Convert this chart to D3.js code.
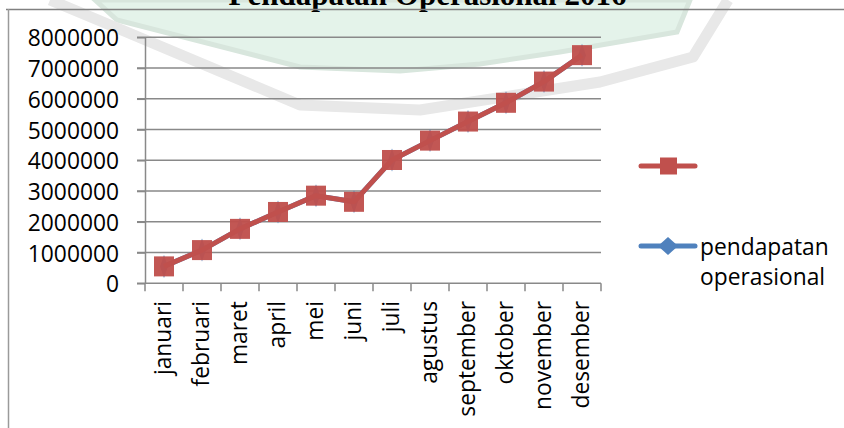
<!DOCTYPE html>
<html><head><meta charset="utf-8">
<script src="https://cdn.jsdelivr.net/npm/d3@7"></script>
<style>html,body{margin:0;padding:0;background:#fff;overflow:hidden}</style>
</head><body><svg id="c" width="844" height="428"></svg>
<script>
const chartTitle = "Pendapatan Operasional 2016";
const months = ["januari","februari","maret","april","mei","juni","juli","agustus","september","oktober","november","desember"];
const redSeries = [550000,1080000,1770000,2320000,2850000,2650000,4010000,4640000,5260000,5870000,6560000,7420000];
const pendapatanOperasional = [550000,1080000,1770000,2320000,2850000,2650000,4010000,4640000,5260000,5870000,6560000,7420000];
const yTicks = [0,1000000,2000000,3000000,4000000,5000000,6000000,7000000,8000000];
const legendLabels = ["", "pendapatan operasional"];

const svg = d3.select("#c");
const W = 844, H = 428;
const plot = {left:145, right:601, top:37.3, bottom:283.3};
const x = d3.scaleBand().domain(months).range([plot.left, plot.right]);
const y = d3.scaleLinear().domain([0, 8000000]).range([plot.bottom, plot.top]);
const cx = m => x(m) + x.bandwidth()/2;
const FONT = "'Open Sans', sans-serif";

// faint watermark of the scanned page
const wm = svg.append("g");
wm.append("path")
  .attr("d", d3.line()([[95,0],[117,20],[300,67],[400,71],[480,64],[560,52],[677,32],[690,0]]) + "Z")
  .attr("fill", "#e4f3ea").attr("stroke", "#d8e6dd").attr("stroke-width", 5);
wm.append("path")
  .attr("d", d3.line()([[50,0],[98,20],[300,105],[420,110],[600,82],[693,57],[728,0]]))
  .attr("fill", "none").attr("stroke", "#e8e8e8").attr("stroke-width", 11).attr("stroke-linejoin","round");

// title (partly cut at the top)
svg.append("text").attr("x", 427.5).attr("y", 5).attr("text-anchor","middle")
  .attr("font-family","'Liberation Serif', 'Times New Roman', serif").attr("font-weight","bold")
  .attr("font-size", 31).attr("fill","#000").text(chartTitle);

// chart frame
svg.append("line").attr("x1",6).attr("x2",W).attr("y1",9.5).attr("y2",9.5).attr("stroke","#808080").attr("stroke-width",1.5);
svg.append("line").attr("x1",8.5).attr("x2",8.5).attr("y1",9).attr("y2",H).attr("stroke","#9a9a9a").attr("stroke-width",1.5);

const GRID = "#898989";
// gridlines
svg.append("g").selectAll("line").data(yTicks).join("line")
  .attr("x1", plot.left - 8).attr("x2", plot.right)
  .attr("y1", d => y(d)).attr("y2", d => y(d))
  .attr("stroke", GRID).attr("stroke-width", 1.5);

// y axis
const yAxis = svg.append("g").attr("transform", `translate(${plot.left},0)`)
  .call(d3.axisLeft(y).tickValues(yTicks).tickSize(8).tickSizeOuter(0).tickFormat(d3.format("d")));
yAxis.select(".domain").attr("stroke", GRID).attr("stroke-width", 1.5);
yAxis.selectAll(".tick line").attr("stroke", GRID).attr("stroke-width", 1.5);
yAxis.selectAll(".tick text").attr("x", null).attr("dy", "0.357em")
  .attr("transform", "translate(-26,0) scale(0.95,1)")
  .attr("font-family", FONT).attr("font-size", 24).attr("fill", "#000").attr("text-anchor","end");

// x axis ticks at band boundaries
const bounds = months.map(m => x(m)).concat([plot.right]);
svg.append("g").selectAll("line").data(bounds).join("line")
  .attr("x1", d => d).attr("x2", d => d).attr("y1", plot.bottom).attr("y2", plot.bottom + 8)
  .attr("stroke", GRID).attr("stroke-width", 1.5);

// x labels
svg.append("g").selectAll("text").data(months).join("text")
  .attr("transform", d => `translate(${cx(d)+7},301) rotate(-90) scale(0.95,1)`)
  .attr("text-anchor","end").attr("font-family", FONT).attr("font-size", 24).attr("fill","#000")
  .text(d => d);

const line = d3.line().x((d,i) => cx(months[i])).y(d => y(d));

// blue series (hidden below)
const BLUE = "#4f81bd", RED = "#c0504d";
svg.append("path").attr("d", line(pendapatanOperasional)).attr("fill","none")
  .attr("stroke", BLUE).attr("stroke-width", 5).attr("stroke-linejoin","round");
const diamond = (px, py, hw, hh) => `M${px},${py-hh}L${px+hw},${py}L${px},${py+hh}L${px-hw},${py}Z`;
svg.append("g").selectAll("path").data(pendapatanOperasional).join("path")
  .attr("d", (d,i) => diamond(cx(months[i]), y(d), 4, 11.5)).attr("fill", BLUE);

// red series
svg.append("path").attr("d", line(redSeries)).attr("fill","none")
  .attr("stroke", RED).attr("stroke-width", 5).attr("stroke-linejoin","round");
svg.append("g").selectAll("rect").data(redSeries).join("rect")
  .attr("x", (d,i) => cx(months[i]) - 10).attr("y", d => y(d) - 10)
  .attr("width", 20).attr("height", 20).attr("fill", RED).attr("fill-opacity", 0.96);

// legend
const lg = svg.append("g");
const legendRows = [{c:RED, yy:166, marker:"sq", label:legendLabels[0]}, {c:BLUE, yy:246, marker:"di", label:legendLabels[1]}];
legendRows.forEach(r => {
  lg.append("line").attr("x1",641).attr("x2",695).attr("y1",r.yy).attr("y2",r.yy)
    .attr("stroke", r.c).attr("stroke-width",5).attr("stroke-linecap","round");
  if (r.marker === "sq") {
    lg.append("rect").attr("x",660).attr("y",r.yy-8.5).attr("width",17).attr("height",17).attr("fill", r.c);
  } else {
    lg.append("path").attr("d", diamond(668, r.yy, 10, 9)).attr("fill", r.c);
  }
  if (r.label) {
    const words = r.label.split(" ");
    words.forEach((w, k) => {
      lg.append("text").attr("transform", `translate(700,${255 + 30*k}) scale(0.95,1)`)
        .attr("font-family", FONT).attr("font-size", 24).attr("fill","#000").text(w);
    });
  }
});
</script></body></html>
